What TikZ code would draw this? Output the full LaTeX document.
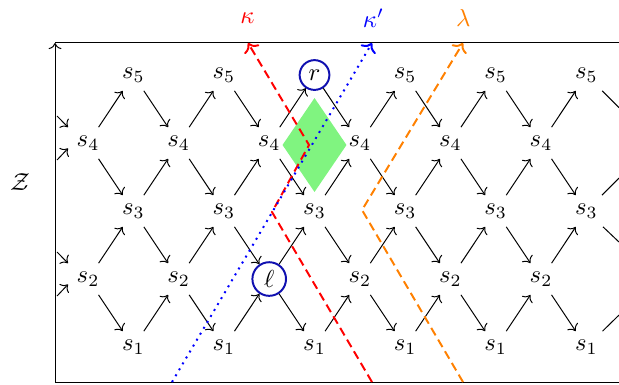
\documentclass[tikz,border=0pt]{standalone}
\usepackage{amsmath,amssymb}
\usepackage{xcolor}
\usepackage{tikz}
\usetikzlibrary{arrows.meta}
\definecolor{C_KAP} {HTML}{FF0000}
\definecolor{C_KAPP}{HTML}{0000FF}
\definecolor{C_LAM} {HTML}{FF8000}
\definecolor{C_MARK}{HTML}{1010B0}
\definecolor{C_FILL}{HTML}{80F480}
\tikzset{
  %% -- quiver vertex --
  AR/vert/.style={inner sep=3.33pt},
  %% -- circled vertex --
  AR/mark/.style={circle, draw=C_MARK, thick, inner sep=2pt},
  %% -- irreducible map --
  AR/arr/.style={-{To}, thin},
  %% -- map running off the cut edge --
  AR/stub/.style={thin},
  %% -- section paths --
  AR/kap/.style={-{To}, thick, dash pattern=on 3.5pt off 2pt, color=C_KAP},
  AR/kapp/.style={-{To}, thick, dotted, color=C_KAPP},
  AR/lam/.style={-{To}, thick, dash pattern=on 3.5pt off 2pt, color=C_LAM},
}

\begin{document}
\begin{tikzpicture}[x=0.6471cm, y=0.9714cm]
\useasboundingbox (-1.943,0.456) rectangle (11.722,6.103);

%% Frame
\coordinate (fbl) at (-0.728,0.485);
\coordinate (ftl) at (-0.728,5.471);
\coordinate (ftr) at (11.722,5.471);
\coordinate (fbr) at (11.722,0.485);
\draw[-{To}] (fbl) -- (ftl);
\draw (ftl) -- (ftr);
\draw (fbl) -- (fbr);
\node (zlab) at (-1.5,3.426) {$\mathcal{Z}$};

%% Green region
\fill[C_FILL] (5,3.971) +(-0.706,0) -- +(0,0.691) -- +(0.706,0)
  -- +(0,-0.691) -- cycle;

%% Vertices
\foreach \c in {0,...,11}
  \foreach \k in {1,...,5}{
    \pgfmathtruncatemacro\odd{mod(\c+\k,2)}
    \ifnum\odd=0
      \ifnum\c\k=42 \node[AR/mark] (q\c-\k) at (\c,\k) {$\ell$};
      \else\ifnum\c\k=55 \node[AR/mark] (q\c-\k) at (\c,\k) {$r$};
      \else \node[AR/vert] (q\c-\k) at (\c,\k) {$s_{\k}$};
      \fi\fi
    \fi
  }

%% Maps
\foreach \c in {0,...,10}
  \foreach \k in {1,...,5}{
    \pgfmathtruncatemacro\odd{mod(\c+\k,2)}
    \pgfmathtruncatemacro\n{\c+1}
    \pgfmathtruncatemacro\up{\k+1}
    \pgfmathtruncatemacro\dn{\k-1}
    \ifnum\odd=0
      \ifnum\k<5 \draw[AR/arr] (q\c-\k) -- (q\n-\up); \fi
      \ifnum\k>1 \draw[AR/arr] (q\c-\k) -- (q\n-\dn); \fi
    \fi
  }

%% Cut edges (left in, right out)
\coordinate (in4a) at (-0.684,4.397);
\coordinate (in4b) at (-0.684,3.750);
\coordinate (in2a) at (-0.684,2.397);
\coordinate (in2b) at (-0.684,1.750);
\draw[AR/arr] (in4a) -- (q0-4.north west);
\draw[AR/arr] (in4b) -- (q0-4.195);
\draw[AR/arr] (in2a) -- (q0-2.north west);
\draw[AR/arr] (in2b) -- (q0-2.195);
\coordinate (out5)  at (11.722,4.52);
\coordinate (out3a) at (11.722,3.485);
\coordinate (out3b) at (11.722,2.544);
\coordinate (out1)  at (11.722,1.47);
\draw[AR/stub] (q11-5) -- (out5);
\draw[AR/stub] (q11-3) -- (out3a);
\draw[AR/stub] (q11-3) -- (out3b);
\draw[AR/stub] (q11-1) -- (out1);

%% kappa
\coordinate (k0) at (6.269,0.485);
\coordinate (k1) at (4.062,2.985);
\coordinate (k2) at (4.879,3.971);
\coordinate (k3) at (3.532,5.471);
\draw[AR/kap] (k0) -- (k1) -- (k2) -- (k3);
\node[text=C_KAP] (kap) at (3.521,5.83) {$\kappa$};

%% kappa'
\coordinate (kp0) at (1.854,0.485);
\coordinate (kp1) at (6.269,5.471);
\draw[AR/kapp] (kp0) -- (kp1);
\node[text=C_KAPP] (kapp) at (6.30,5.84) {$\kappa'$};

%% lambda
\coordinate (l0) at (8.278,0.485);
\coordinate (l1) at (6.049,3.015);
\coordinate (l2) at (8.278,5.471);
\draw[AR/lam] (l0) -- (l1) -- (l2);
\node[text=C_LAM] (lam) at (8.287,5.846) {$\lambda$};
\end{tikzpicture}
\end{document}
